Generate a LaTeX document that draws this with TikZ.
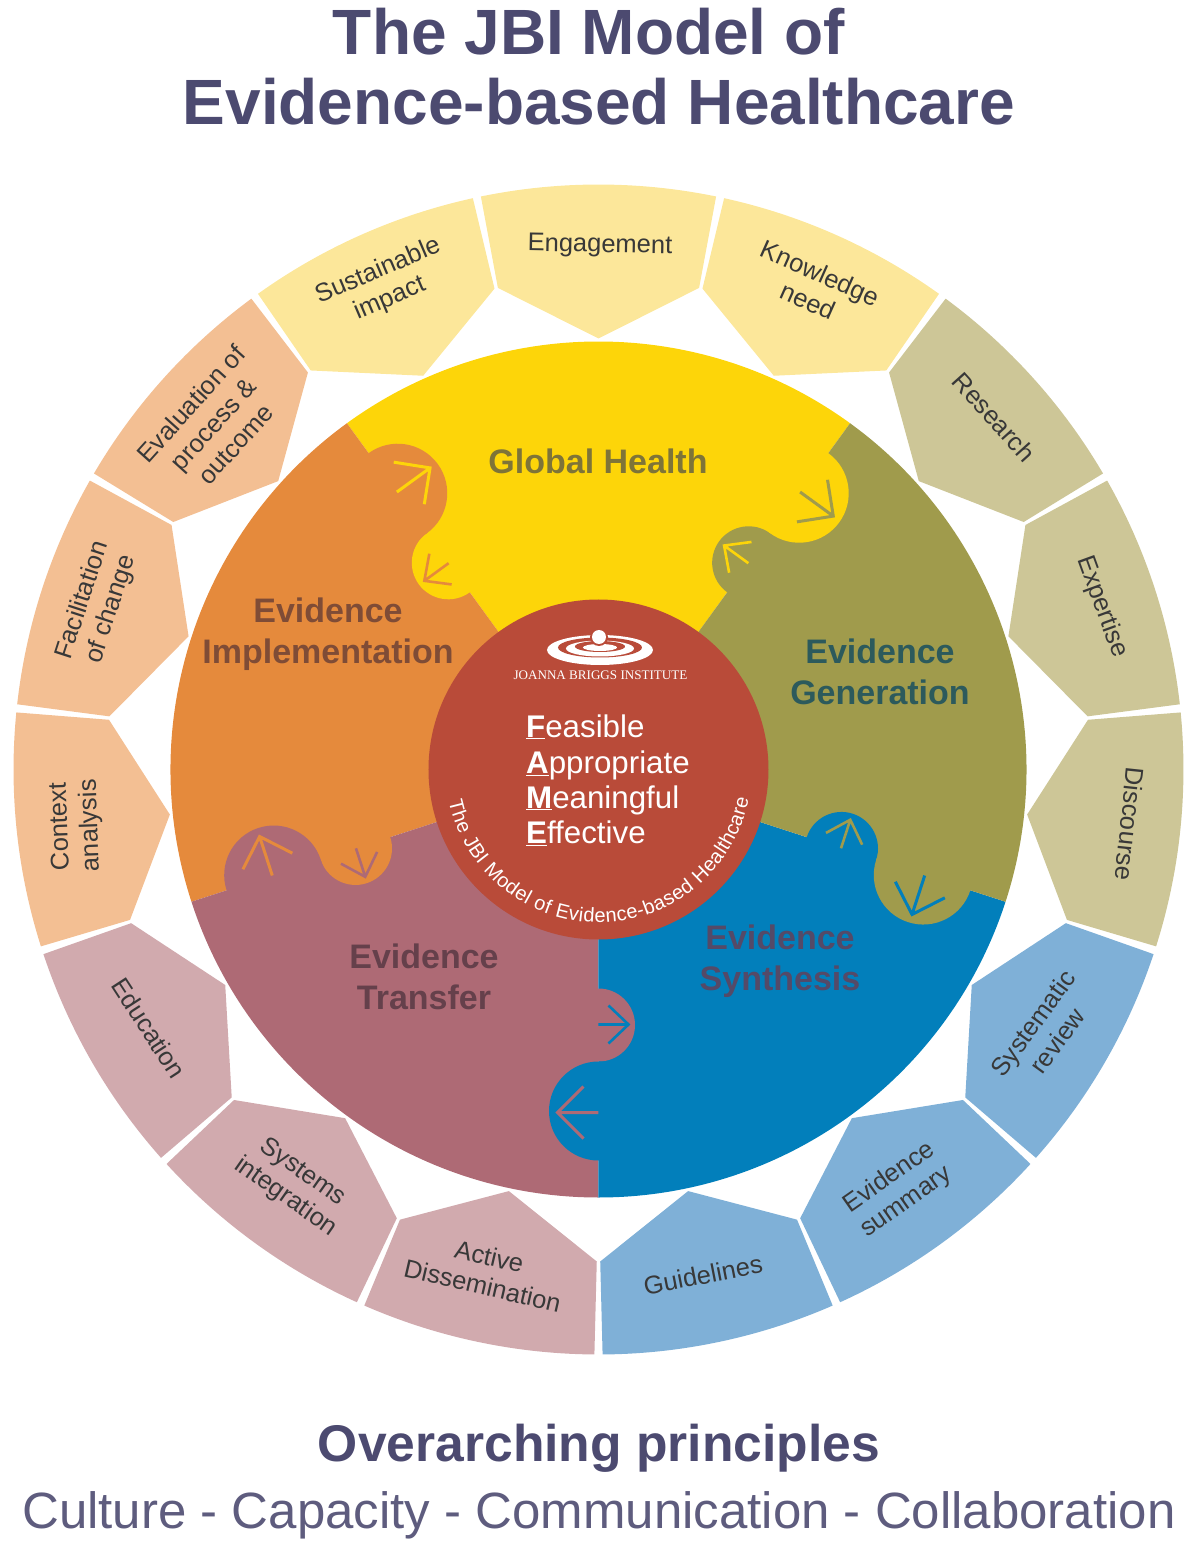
\documentclass[tikz,border=0pt]{standalone}
\usepackage{fontspec}
\setmainfont{Liberation Sans}
\newfontfamily\logofont{Liberation Serif}
\usetikzlibrary{decorations.text}

\definecolor{jbiyellow}{HTML}{FDD509}
\definecolor{jbiolive}{HTML}{A09B4C}
\definecolor{jbiorange}{HTML}{E58A3C}
\definecolor{jbimauve}{HTML}{AE6A75}
\definecolor{jbiblue}{HTML}{027FBB}
\definecolor{jbibrick}{HTML}{B94B39}
\definecolor{lightyellow}{HTML}{FCE79A}
\definecolor{lightolive}{HTML}{CDC697}
\definecolor{lightblue}{HTML}{7FB0D7}
\definecolor{lightmauve}{HTML}{D1AAAE}
\definecolor{lightorange}{HTML}{F3BF93}
\definecolor{headcol}{HTML}{4C4A70}

\newcommand{\famekey}[2]{\underline{\textbf{#1}}#2}

\begin{document}
\begin{tikzpicture}[
    x=1pt,y=1pt,
    heading/.style={headcol,font=\fontsize{64}{69}\selectfont\bfseries,inner sep=0},
    tilelabel/.style={black!78,font=\fontsize{25.5}{30}\selectfont,align=center,inner sep=0},
    sectorlabel/.style={font=\fontsize{34}{41}\selectfont\bfseries,align=center,inner sep=0},
    famerow/.style={white,font=\fontsize{31.3}{31}\selectfont,anchor=base west,inner sep=0},
    pointer/.style={line width=3pt}
]

% radii of the wheel
\def\rdisc{428}
\def\rtile{585}
\def\rhub{170}

\useasboundingbox (-598.5,-778.5) rectangle (601.5,769.5);

% =========================
% OUTER TILES
% =========================
\foreach \ang/\col in {90/lightyellow,114/lightyellow,66/lightyellow,
    42/lightolive,18/lightolive,-6/lightolive,
    -30/lightblue,-54/lightblue,-78/lightblue,
    -102/lightmauve,-126/lightmauve,-150/lightmauve,
    186/lightorange,162/lightorange,138/lightorange}
{
    \begin{scope}[rotate=\ang]
        \fill[\col] (-11.6:\rtile) arc[start angle=-11.6,end angle=11.6,radius=\rtile]
            -- (11.8:492) -- (0:431) -- (-11.8:492) -- cycle;
    \end{scope}
}

% =========================
% SECTORS OF THE DISC
% =========================
\foreach \ang/\col in {54/jbiyellow,126/jbiorange,198/jbimauve,270/jbiblue,342/jbiolive}
    \fill[\col] (0,0) -- (\ang:\rdisc) arc[start angle=\ang,delta angle=72,radius=\rdisc] -- cycle;

% bumps and arrows on each boundary
\foreach \ang/\low/\high in {54/jbiolive/jbiyellow,126/jbiyellow/jbiorange,
    198/jbiorange/jbimauve,270/jbimauve/jbiblue,342/jbiblue/jbiolive}
{
    \begin{scope}[rotate=\ang]
        \fill[\low] (255.5,0) circle (36.5);
        \fill[\high] (341.5,0) circle (49.5);
        \draw[pointer,line width=2.6pt,\high] (255,0) -- (255,30) (274,10) -- (255,30) -- (236,10);
        \draw[pointer,\low] (343,0) -- (343,-41) (369,-15) -- (343,-41) -- (317,-15);
    \end{scope}
}

% =========================
% HUB
% =========================
\fill[jbibrick] (0,0) circle (\rhub);
\path[decorate,decoration={text along path,text align=fit to path,
    text={|\fontsize{20}{20}\selectfont\color{white}|The JBI Model of Evidence-based Healthcare}}]
    (192:153) arc[start angle=192,end angle=349,radius=153];

% =========================
% EVERYTHING PLACED IN IMAGE COORDINATES
% =========================
\begin{scope}[shift={(-598.5,769.5)},yscale=-1]
    % logo
    \fill[white] (600,650) ellipse (53 and 15);
    \fill[jbibrick] (600,647.5) ellipse (42 and 10);
    \fill[white] (600,648.5) ellipse (34 and 8);
    \fill[jbibrick] (600,646.5) ellipse (25 and 5.5);
    \fill[white] (600,647.5) ellipse (17 and 3.5);
    \fill[jbibrick] (599,637) circle (9);
    \fill[white] (599,637) circle (7);
    \node[white,inner sep=0,font=\logofont\fontsize{13.1}{13}\selectfont] (logotext) at (600.5,675) {JOANNA BRIGGS INSTITUTE};

    % FAME
    \node[famerow] (feasible) at (526,737) {\famekey{F}{easible}};
    \node[famerow] (appropriate) at (526,773.5) {\famekey{A}{ppropriate}};
    \node[famerow] (meaningful) at (526,808) {\famekey{M}{eaningful}};
    \node[famerow] (effective) at (526,843.5) {\famekey{E}{ffective}};

    % sector names
    \node[sectorlabel,text={rgb,255:red,126;green,116;blue,56}] (global) at (598,461) {Global Health};
    \node[sectorlabel,text={rgb,255:red,127;green,76;blue,54}] (implementation) at (328,634) {Evidence\\Implementation};
    \node[sectorlabel,text={rgb,255:red,44;green,90;blue,92}] (generation) at (880,672) {Evidence\\Generation};
    \node[sectorlabel,text={rgb,255:red,84;green,74;blue,104}] (synthesis) at (780,961) {Evidence\\Synthesis};
    \node[sectorlabel,text={rgb,255:red,101;green,64;blue,75}] (transfer) at (424,977) {Evidence\\Transfer};

    % tile labels
    \foreach \x/\y/\rot/\txt in {600/246/-1/Engagement,814/287/-24/Knowledge\\need,
        994/417/-48/Research,1102/607/-70/Expertise,1130/824/-96/Discourse,
        1045/1032/54/Systematic\\review,898/1190/35/Evidence\\summary,703/1275/11/Guidelines,
        486/1271/-13/Active\\Dissemination,294/1185/-35/Systems\\integration,149/1028/-57/Education,
        76/826/92/Context\\analysis,97/605/72/Facilitation\\of change,
        213/424/48/Evaluation of\\process \&\\outcome,384/285/23/Sustainable\\impact}
    {
        \node[tilelabel,rotate=\rot] (tile\x) at (\x,\y) {\txt};
    }

    % title and footer
    \node[heading] (titleone) at (589,32) {The JBI Model of};
    \node[heading] (titletwo) at (599,102) {Evidence-based Healthcare};
    \node[headcol,inner sep=0,font=\fontsize{51.6}{52}\selectfont\bfseries] (principles) at (599,1448) {Overarching principles};
    \node[headcol!90!white,inner sep=0,font=\fontsize{51}{52}\selectfont] (values) at (599,1515) {Culture - Capacity - Communication - Collaboration};
\end{scope}
\end{tikzpicture}
\end{document}
